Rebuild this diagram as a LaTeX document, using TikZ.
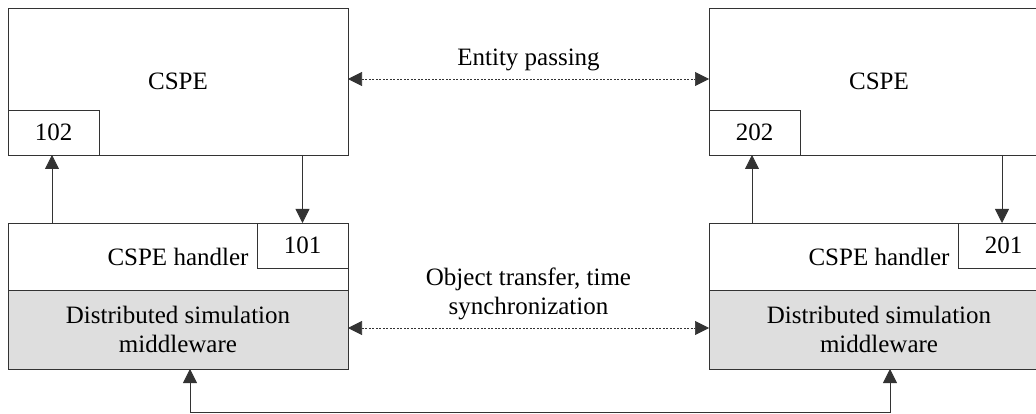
\documentclass[tikz,border=0pt]{standalone}
\usepackage{fontspec}
\setmainfont{Liberation Serif}
\usetikzlibrary{arrows.meta}
\begin{document}
\begin{tikzpicture}[x=1pt,y=-1pt,
  font=\fontsize{25}{29}\selectfont,
  box/.style={draw=black!80,line width=0.9pt,rectangle,inner sep=0pt,outer sep=0pt},
  mw/.style={box,fill=black!13,align=center},
  arr/.style={draw=black!80,line width=0.8pt,-{Triangle[length=14pt,width=14pt]}},
  darr/.style={draw=black!80,line width=0.7pt,dash pattern=on 2pt off 1.5pt,{Triangle[length=14pt,width=14pt]}-{Triangle[length=14pt,width=14pt]}},
  barr/.style={draw=black!80,line width=0.8pt,{Triangle[length=14pt,width=14pt]}-{Triangle[length=14pt,width=14pt]}}]
\useasboundingbox (0,0) rectangle (1036,414);
% left
\node[box,minimum width=340pt,minimum height=147pt] (cspeL) at (178,81.5) {CSPE};
\node[box,minimum width=91pt,minimum height=45pt] (b102) at (53.5,132.5) {102};
\node[box,minimum width=340pt,minimum height=67pt] (hL) at (178,256.5) {CSPE handler};
\node[box,fill=white,minimum width=91pt,minimum height=45pt] (b101) at (302.5,245.5) {101};
\node[mw,minimum width=340pt,minimum height=79pt] (mwL) at (178,329.5) {Distributed simulation\\middleware};
% right
\node[box,minimum width=340pt,minimum height=147pt] (cspeR) at (879,81.5) {CSPE};
\node[box,minimum width=91pt,minimum height=45pt] (b202) at (754.5,132.5) {202};
\node[box,minimum width=340pt,minimum height=67pt] (hR) at (879,256.5) {CSPE handler};
\node[box,fill=white,minimum width=91pt,minimum height=45pt] (b201) at (1003.5,245.5) {201};
\node[mw,minimum width=340pt,minimum height=79pt] (mwR) at (879,329.5) {Distributed simulation\\middleware};
% vertical arrows
\draw[arr] ([xshift=-1.5pt]b102.south |- hL.north) -- ([xshift=-1.5pt]b102.south);
\draw[arr] (b101.north |- cspeL.south) -- (b101.north);
\draw[arr] ([xshift=-2.5pt]b202.south |- hR.north) -- ([xshift=-2.5pt]b202.south);
\draw[arr] ([xshift=-1.5pt]b201.north |- cspeR.south) -- ([xshift=-1.5pt]b201.north);
% horizontal dotted
\draw[darr] ([yshift=2.5pt]cspeL.east) -- node[above=4pt] (lab1) {Entity passing} ([yshift=2.5pt]cspeR.west);
\draw[darr] ([yshift=1.5pt]mwL.east) -- node[above=4pt,align=center] (lab2) {Object transfer, time\\synchronization} ([yshift=1.5pt]mwR.west);
% bottom connector
\coordinate (bl) at (190,412);
\draw[barr] ([xshift=12pt]mwL.south) -- ([xshift=12pt]mwL.south |- bl) -| ([xshift=11pt]mwR.south);
\end{tikzpicture}
\end{document}
